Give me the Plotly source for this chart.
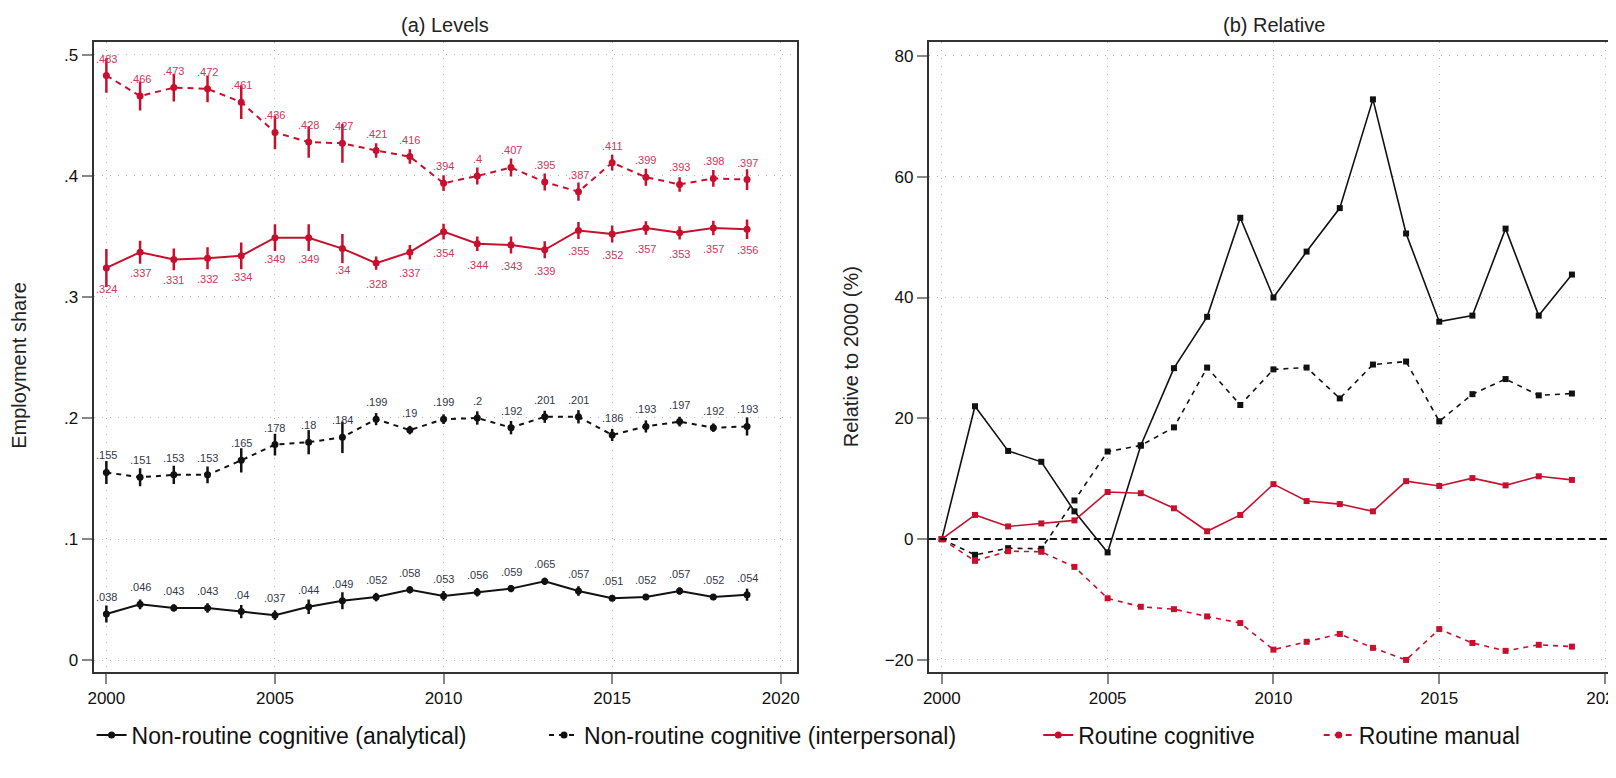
import plotly.graph_objects as go

years = list(range(2000, 2020))

# (a) Levels: employment shares
analytical = [.038, .046, .043, .043, .040, .037, .044, .049, .052, .058, .053, .056, .059, .065, .057, .051, .052, .057, .052, .054]
interpersonal = [.155, .151, .153, .153, .165, .178, .180, .184, .199, .190, .199, .200, .192, .201, .201, .186, .193, .197, .192, .193]
routine_cog = [.324, .337, .331, .332, .334, .349, .349, .340, .328, .337, .354, .344, .343, .339, .355, .352, .357, .353, .357, .356]
routine_man = [.483, .466, .473, .472, .461, .436, .428, .427, .421, .416, .394, .400, .407, .395, .387, .411, .399, .393, .398, .397]

# confidence half-widths
analytical_ci = [.007, .004, .003, .004, .0055, .004, .006, .007, .0035, .003, .004, .0035, .003, .003, .004, .002, .0025, .003, .0025, .005]
interpersonal_ci = [.0095, .0075, .0075, .007, .010, .009, .010, .013, .005, .0035, .004, .0055, .0055, .005, .0055, .005, .005, .004, .0035, .0075]
routine_cog_ci = [.0157, .0095, .009, .009, .011, .011, .011, .012, .0055, .006, .0065, .006, .007, .007, .007, .007, .0055, .0055, .006, .008]
routine_man_ci = [.0143, .012, .0115, .011, .014, .014, .013, .016, .006, .006, .0065, .007, .0075, .007, .0075, .0065, .007, .006, .007, .0085]

# (b) Relative to 2000 (%)
rel_analytical = [0, 22.0, 14.6, 12.8, 4.6, -2.2, 15.5, 28.3, 36.8, 53.2, 40.0, 47.6, 54.8, 72.8, 50.6, 36.0, 37.0, 51.4, 37.0, 43.8]
rel_interpersonal = [0, -2.6, -1.5, -1.6, 6.4, 14.5, 15.5, 18.5, 28.4, 22.2, 28.1, 28.4, 23.3, 28.9, 29.4, 19.5, 24.0, 26.5, 23.8, 24.1]
rel_routine_cog = [0, 4.0, 2.1, 2.6, 3.1, 7.8, 7.6, 5.1, 1.3, 4.0, 9.1, 6.3, 5.8, 4.6, 9.6, 8.8, 10.1, 8.9, 10.4, 9.8]
rel_routine_man = [0, -3.6, -2.0, -2.1, -4.6, -9.8, -11.2, -11.6, -12.8, -13.9, -18.3, -17.0, -15.7, -18.0, -20.0, -14.9, -17.2, -18.5, -17.5, -17.8]

names = ["Non-routine cognitive (analytical)", "Non-routine cognitive (interpersonal)",
         "Routine cognitive", "Routine manual"]
xticks = [2000, 2005, 2010, 2015, 2020]
yticks_a = [0, .1, .2, .3, .4, .5]
yticks_a_text = ["0", ".1", ".2", ".3", ".4", ".5"]
yticks_b = [-20, 0, 20, 40, 60, 80]

RED = "#c8102e"
BLACK = "#111111"
FONT = "Liberation Sans, Arial, sans-serif"

levels = [analytical, interpersonal, routine_cog, routine_man]
cis = [analytical_ci, interpersonal_ci, routine_cog_ci, routine_man_ci]
rels = [rel_analytical, rel_interpersonal, rel_routine_cog, rel_routine_man]
colors = [BLACK, BLACK, RED, RED]
dashes_a = ["solid", "5px,5px", "solid", "6px,5px"]
dashes_b = ["solid", "5px,5px", "solid", "5px,5px"]
label_colors = ["#33384a", "#33384a", "#d03658", "#d03658"]
label_shift = [17, 17, -21, 17]
legends = ["legend", "legend2", "legend3", "legend4"]

fig = go.Figure()

for i in range(4):
    fig.add_trace(go.Scatter(
        x=years, y=levels[i], mode="lines+markers", name=names[i],
        line=dict(color=colors[i], width=2, dash=dashes_a[i]),
        marker=dict(color=colors[i], size=7, symbol="circle"),
        error_y=dict(type="data", array=cis[i], visible=True, color=colors[i], thickness=2.5, width=0),
        xaxis="x", yaxis="y", legend=legends[i], showlegend=True,
    ))

for i in range(4):
    fig.add_trace(go.Scatter(
        x=years, y=rels[i], mode="lines+markers", name=names[i],
        line=dict(color=colors[i], width=1.6, dash=dashes_b[i]),
        marker=dict(color=colors[i], size=6, symbol="square"),
        xaxis="x2", yaxis="y2", showlegend=False,
    ))

def fmt(v):
    s = f"{v:.3f}".rstrip("0").rstrip(".")
    return s[1:] if s.startswith("0") else s

annotations = []
for i in range(4):
    for yr, v in zip(years, levels[i]):
        annotations.append(dict(
            x=yr, y=v, xref="x", yref="y", text=fmt(v), showarrow=False,
            yshift=label_shift[i], yanchor="middle", xanchor="center",
            font=dict(family=FONT, size=11, color=label_colors[i]),
        ))

W, H = 1616, 778
xa = [80 / W, 787 / W]
xb = [920 / W, 1615 / W]
yd = [(H - 664) / H, (H - 34) / H]

annotations += [
    dict(x=(xa[0] + xa[1]) / 2, y=(H - 17) / H, xref="paper", yref="paper", text="(a) Levels",
         showarrow=False, font=dict(family=FONT, size=20, color="#222222"), xanchor="center", yanchor="middle"),
    dict(x=(xb[0] + xb[1]) / 2, y=(H - 17) / H, xref="paper", yref="paper", text="(b) Relative",
         showarrow=False, font=dict(family=FONT, size=20, color="#222222"), xanchor="center", yanchor="middle"),
    dict(x=5 / W, y=(yd[0] + yd[1]) / 2 - 0.01, xref="paper", yref="paper", text="Employment share",
         textangle=-90, showarrow=False, font=dict(family=FONT, size=20, color="#222222"),
         xanchor="center", yanchor="middle"),
    dict(x=842 / W, y=(yd[0] + yd[1]) / 2, xref="paper", yref="paper", text="Relative to 2000 (%)",
         textangle=-90, showarrow=False, font=dict(family=FONT, size=20, color="#222222"),
         xanchor="center", yanchor="middle"),
]

axis_common = dict(
    showline=True, mirror=True, linecolor="#333333", linewidth=2,
    ticks="outside", ticklen=10, tickcolor="#888888", tickwidth=1.5,
    showgrid=True, gridcolor="#b5b5b5", griddash="1px,7px", gridwidth=1,
    zeroline=False, tickfont=dict(family=FONT, size=17, color="#111111"),
)

fig.update_layout(
    width=W, height=H, margin=dict(l=0, r=0, t=0, b=0),
    paper_bgcolor="white", plot_bgcolor="white",
    xaxis=dict(domain=xa, range=[1999.62, 2020.47], tickvals=xticks, anchor="y", **axis_common),
    yaxis=dict(domain=yd, range=[-0.0099, 0.5107], tickvals=yticks_a, ticktext=yticks_a_text, anchor="x", **axis_common),
    xaxis2=dict(domain=xb, range=[1999.61, 2020.45], tickvals=xticks, anchor="y2", **axis_common),
    yaxis2=dict(domain=yd, range=[-22.0, 82.3], tickvals=yticks_b, anchor="x2", **axis_common),
    annotations=annotations,
    shapes=[dict(type="line", xref="x2 domain", yref="y2", x0=0, x1=1, y0=0, y1=0,
                 line=dict(color="#111111", width=2, dash="7px,4px"))],
)

leg_x = [78, 533, 1030, 1312]
leg_common = dict(orientation="h", yanchor="middle", y=(H - 727) / H, xanchor="left",
                  font=dict(family=FONT, size=23, color="#111111"), bgcolor="rgba(0,0,0,0)")
fig.update_layout(
    legend=dict(x=leg_x[0] / W, **leg_common),
    legend2=dict(x=leg_x[1] / W, **leg_common),
    legend3=dict(x=leg_x[2] / W, **leg_common),
    legend4=dict(x=leg_x[3] / W, **leg_common),
)

fig.write_html("out.html")
